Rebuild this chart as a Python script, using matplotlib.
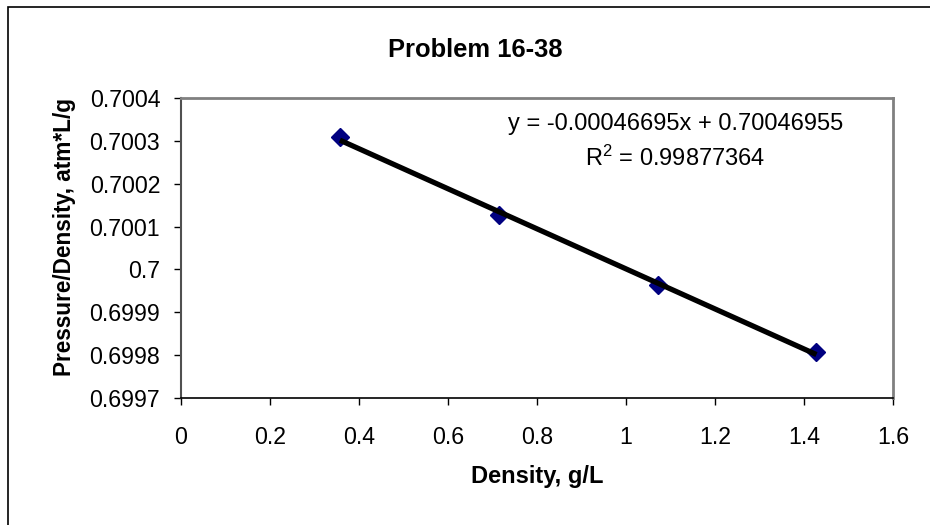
import numpy as np
import matplotlib.pyplot as plt
from matplotlib.patches import Rectangle

plt.rcParams['font.family'] = ['Liberation Sans', 'DejaVu Sans']
plt.rcParams['mathtext.fontset'] = 'custom'
plt.rcParams['mathtext.rm'] = 'Liberation Sans'
plt.rcParams['mathtext.it'] = 'Liberation Sans'

# --- data ---
density = [0.357, 0.714, 1.071, 1.428]
p_over_d = [0.700308, 0.700128, 0.699963, 0.699807]
eq_text = "y = -0.00046695x + 0.70046955"
r2_text = "R$^{2}$ = 0.99877364"
x_ticks = [0, 0.2, 0.4, 0.6, 0.8, 1, 1.2, 1.4, 1.6]
y_ticks = [0.6997, 0.6998, 0.6999, 0.7, 0.7001, 0.7002, 0.7003, 0.7004]

fig = plt.figure(figsize=(9.3, 5.25), dpi=100)
ax = fig.add_axes([181 / 930, 1 - 398 / 525, 712 / 930, 300 / 525])

# outer chart border (right/bottom edges fall outside the image)
fig.patches.append(Rectangle((8 / 930, -0.05), 1.0, 1.05 - 7 / 525,
                             transform=fig.transFigure, fill=False,
                             edgecolor='black', linewidth=1.2))

# linear trendline across the data range
coef = np.polyfit(density, p_over_d, 1)
xx = np.array([min(density), max(density)])
ax.plot(xx, np.polyval(coef, xx), color='black', linewidth=3.8, zorder=3,
        solid_capstyle='butt')
ax.plot(density, p_over_d, linestyle='none', marker='D', markersize=9.5,
        color='#000080', zorder=2)

ax.set_xlim(0, 1.6)
ax.set_ylim(0.6997, 0.7004)
ax.set_xticks(x_ticks)
ax.set_xticklabels([f"{t:g}" for t in x_ticks])
ax.set_yticks(y_ticks)
ax.set_yticklabels([f"{t:.4f}".rstrip('0').rstrip('.') for t in y_ticks])
ax.tick_params(direction='out', length=5, width=1, labelsize=16.7, colors='black')
ax.tick_params(axis='y', pad=10)
ax.tick_params(axis='x', pad=15)

for s in ['top', 'right']:
    ax.spines[s].set_color('#808080')
    ax.spines[s].set_linewidth(2)
ax.spines['left'].set_color('#505050')
ax.spines['left'].set_linewidth(1.5)
ax.spines['bottom'].set_color('black')
ax.spines['bottom'].set_linewidth(1.2)

ax.set_xlabel("Density, g/L", fontsize=17, fontweight='bold')
ax.xaxis.set_label_coords(0.5, -0.225)
ax.set_ylabel("Pressure/Density, atm*L/g", fontsize=16.3, fontweight='bold')
ax.yaxis.set_label_coords(-0.147, 0.538)

fig.text(475 / 930, 1 - 50 / 525, "Problem 16-38", fontsize=18.4,
         fontweight='bold', ha='center', va='center')

ax.text(0.694, 0.913, eq_text, transform=ax.transAxes, fontsize=17,
        ha='center', va='center')
ax.text(0.694, 0.80, r2_text, transform=ax.transAxes, fontsize=17,
        ha='center', va='center')

fig.savefig("out.png", dpi=100)
